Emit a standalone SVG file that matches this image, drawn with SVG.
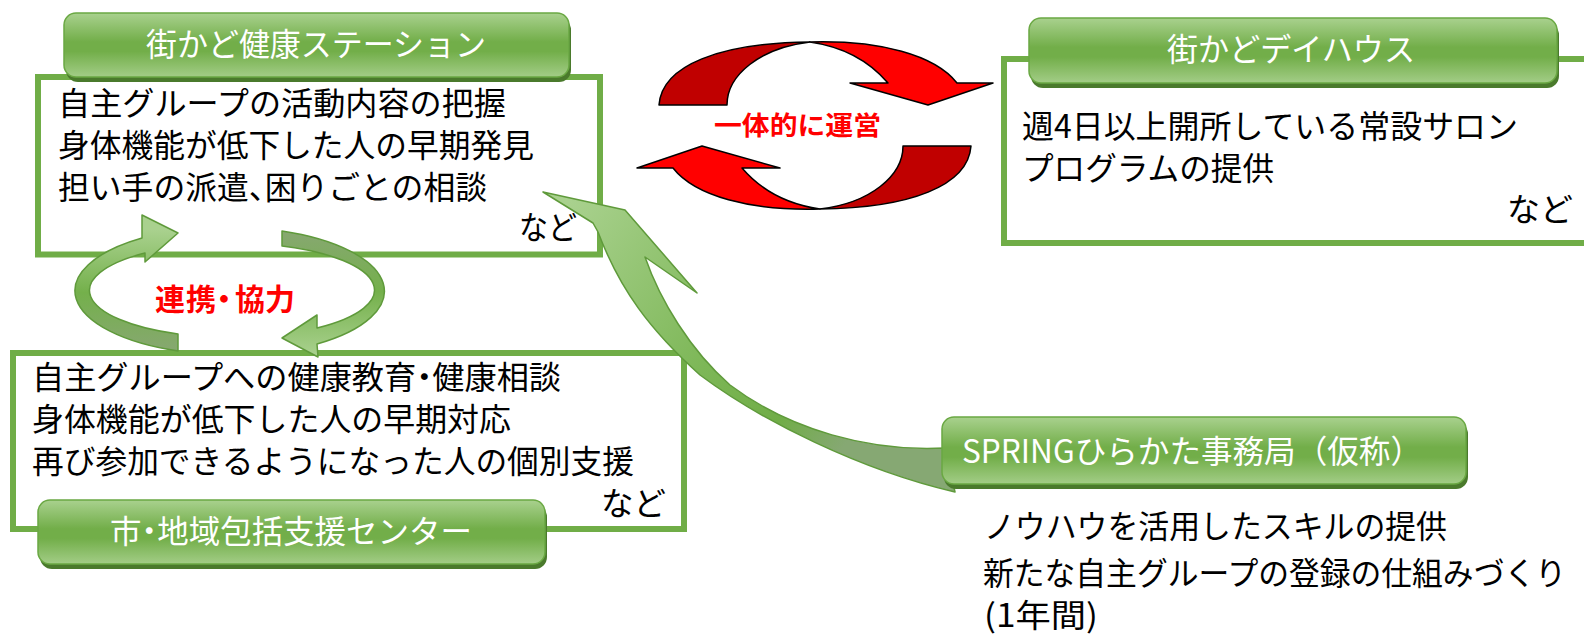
<svg xmlns="http://www.w3.org/2000/svg" width="1584" height="637" viewBox="0 0 1584 637">
<defs>
<style>
.box{fill:#fff;stroke:#70ad47;stroke-width:6}
.pill{stroke:#6aa843;stroke-width:1.5;fill:url(#pillGrad)}
.shadow{fill:#4a7a2c}
.body{font-family:"Noto Sans CJK JP","Noto Sans",sans-serif;font-size:32px;fill:#000}
.title{font-family:"Noto Sans CJK JP","Noto Sans",sans-serif;font-size:32px;fill:#fff}
.red{font-family:"Noto Sans CJK JP","Noto Sans",sans-serif;font-weight:bold;fill:#ff0000}
.half{font-feature-settings:"halt"}
.rdark{fill:#c00000;stroke:#000;stroke-width:1.5;stroke-linejoin:round}
.rbright{fill:#ff0000;stroke:#000;stroke-width:1.5;stroke-linejoin:round}
.garrow{stroke:#5f9a3b;stroke-width:1.5;stroke-linejoin:round}
</style>
<linearGradient id="pillGrad" x1="0" y1="0" x2="0" y2="1">
<stop offset="0" stop-color="#a9d18e"/>
<stop offset="0.45" stop-color="#72ae49"/>
<stop offset="0.6" stop-color="#72ae49"/>
<stop offset="1" stop-color="#a3cd87"/>
</linearGradient>
<linearGradient id="ringL" gradientUnits="userSpaceOnUse" x1="0" y1="230" x2="0" y2="355">
<stop offset="0" stop-color="#a9d18e"/>
<stop offset="0.5" stop-color="#74b04b"/>
<stop offset="1" stop-color="#88a773"/>
</linearGradient>
<linearGradient id="ringR" gradientUnits="userSpaceOnUse" x1="0" y1="228" x2="0" y2="355">
<stop offset="0" stop-color="#88a773"/>
<stop offset="0.5" stop-color="#74b04b"/>
<stop offset="1" stop-color="#a9d18e"/>
</linearGradient>
<linearGradient id="bigGrad" gradientUnits="userSpaceOnUse" x1="570" y1="200" x2="940" y2="470">
<stop offset="0" stop-color="#a9d18e"/>
<stop offset="0.45" stop-color="#7db757"/>
<stop offset="0.65" stop-color="#70ad47"/>
<stop offset="0.8" stop-color="#86a873"/>
<stop offset="1" stop-color="#86a873"/>
</linearGradient>
<path id="redDark" d="M659,105 C662,65 720,43 810,42 C760,48 727,75 727,105 Z"/>
<path id="redBright" d="M810,42 C880,40 935,55 957,83 L993,83 L928,105 L850,83 L888,83 C870,62 845,47 810,42 Z"/>
</defs>
<rect width="1584" height="637" fill="#fff"/>

<g id="node-station">
<rect class="box" x="38" y="77" width="562" height="177.5"/>
<rect class="shadow" x="66" y="18" width="505" height="64" rx="12"/>
<rect class="pill" x="64" y="13" width="505" height="64" rx="12"/>
<text class="title" x="316" y="56" text-anchor="middle" textLength="340" lengthAdjust="spacingAndGlyphs">街かど健康ステーション</text>
<text class="body" x="58" y="115" textLength="448" lengthAdjust="spacingAndGlyphs">自主グループの活動内容の把握</text>
<text class="body" x="58" y="157" textLength="476" lengthAdjust="spacingAndGlyphs">身体機能が低下した人の早期発見</text>
<text class="body" x="58" y="199" textLength="429" lengthAdjust="spacingAndGlyphs">担い手の派遣<tspan class="half">、</tspan>困りごとの相談</text>
<text class="body" x="519" y="239" textLength="58" lengthAdjust="spacingAndGlyphs">など</text>
</g>

<g id="node-dayhouse">
<rect class="box" x="1004" y="59" width="600" height="184"/>
<rect class="shadow" x="1031" y="23" width="528" height="65" rx="12"/>
<rect class="pill" x="1029" y="18" width="528" height="65" rx="12"/>
<text class="title" x="1291" y="61" text-anchor="middle" textLength="248" lengthAdjust="spacingAndGlyphs">街かどデイハウス</text>
<text class="body" x="1022" y="138" textLength="496" lengthAdjust="spacingAndGlyphs">週4日以上開所している常設サロン</text>
<text class="body" x="1022" y="180" textLength="252" lengthAdjust="spacingAndGlyphs">プログラムの提供</text>
<text class="body" x="1507" y="221" textLength="66" lengthAdjust="spacingAndGlyphs">など</text>
</g>

<g id="node-center">
<rect class="box" x="13" y="353" width="671" height="176"/>
<rect class="shadow" x="40" y="505" width="507" height="64" rx="12"/>
<rect class="pill" x="38" y="500" width="507" height="64" rx="12"/>
<text class="title" x="291" y="543" text-anchor="middle" textLength="362" lengthAdjust="spacingAndGlyphs">市<tspan class="half">・</tspan>地域包括支援センター</text>
<text class="body" x="32" y="389" textLength="529" lengthAdjust="spacingAndGlyphs">自主グループへの健康教育<tspan class="half">・</tspan>健康相談</text>
<text class="body" x="32" y="431" textLength="479" lengthAdjust="spacingAndGlyphs">身体機能が低下した人の早期対応</text>
<text class="body" x="32" y="473" textLength="602" lengthAdjust="spacingAndGlyphs">再び参加できるようになった人の個別支援</text>
<text class="body" x="601" y="515" textLength="65" lengthAdjust="spacingAndGlyphs">など</text>
</g>

<g id="connectors">
<g id="red-cycle">
<use href="#redDark" class="rdark"/>
<use href="#redBright" class="rbright"/>
<g transform="rotate(180 815 125.5)">
<use href="#redDark" class="rdark"/>
<use href="#redBright" class="rbright"/>
</g>
<text class="red" x="714" y="135" font-size="26" textLength="167" lengthAdjust="spacingAndGlyphs">一体的に運営</text>
</g>
<g id="green-cycle">
<path class="garrow" fill="url(#ringL)" d="M178,351 A155,64 0 0,1 142,238 L142,215 L178,233 L145,262 L145,253 A141,47 0 0,0 178,334 Z"/>
<path class="garrow" fill="url(#ringR)" d="M282,231 A155,64 0 0,1 317,344 L318,357 L282,338 L317,315 L317,328 A141,47 0 0,0 282,246 Z"/>
<text class="red" x="155 186 209 235 265" y="310" font-size="30">連携・協力</text>
</g>
<g id="spring-arrow">
<path class="garrow" fill="url(#bigGrad)" d="M543,192 L625,210 L697,293 L645,257 C660,300 690,350 730,385 C790,430 870,452 945,448 L955,492 C860,470 760,420 700,375 C650,330 620,290 598,232 L593,223 Z"/>
</g>
</g>

<g id="node-spring">
<rect class="shadow" x="944" y="422" width="524" height="67" rx="12"/>
<rect class="pill" x="942" y="417" width="524" height="67" rx="12"/>
<text class="title" x="962" y="463" font-size="33" textLength="460" lengthAdjust="spacingAndGlyphs">SPRINGひらかた事務局（仮称）</text>
<text class="body" x="984" y="538" textLength="463" lengthAdjust="spacingAndGlyphs">ノウハウを活用したスキルの提供</text>
<text class="body" x="983" y="585" font-size="30" textLength="583" lengthAdjust="spacingAndGlyphs">新たな自主グループの登録の仕組みづくり</text>
<text class="body" x="984" y="627" textLength="114" lengthAdjust="spacingAndGlyphs">(1年間)</text>
</g>
</svg>
